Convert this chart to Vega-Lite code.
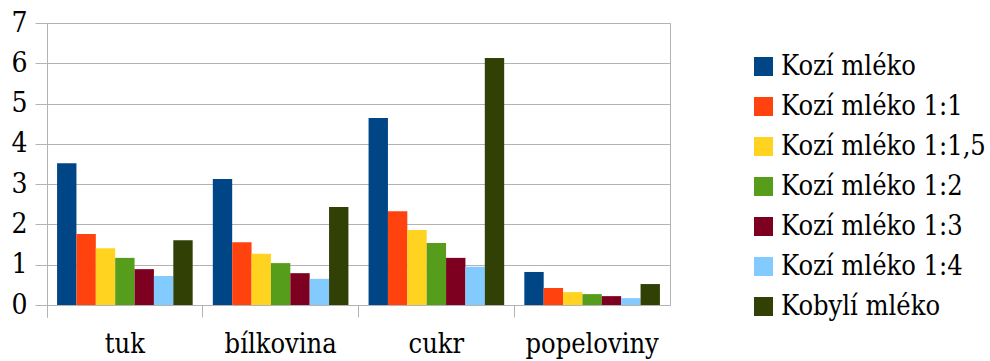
{
  "$schema": "https://vega.github.io/schema/vega-lite/v6.json",
  "width": 623,
  "height": 282,
  "autosize": {"type": "none"},
  "padding": {"left": 47, "top": 23, "right": 320, "bottom": 56},
  "background": "white",
  "config": {
    "font": "DejaVu Serif Condensed, DejaVu Serif",
    "axis": {"labelFont": "DejaVu Serif Condensed, DejaVu Serif"},
    "legend": {"labelFont": "DejaVu Serif Condensed, DejaVu Serif"},
    "view": {"stroke": "#b3b3b3", "strokeWidth": 1}
  },
  "data": {
    "values": [
      {"slozka": "tuk", "mleko": "Kozí mléko", "hodnota": 3.52},
      {"slozka": "tuk", "mleko": "Kozí mléko 1:1", "hodnota": 1.76},
      {"slozka": "tuk", "mleko": "Kozí mléko 1:1,5", "hodnota": 1.41},
      {"slozka": "tuk", "mleko": "Kozí mléko 1:2", "hodnota": 1.17},
      {"slozka": "tuk", "mleko": "Kozí mléko 1:3", "hodnota": 0.89},
      {"slozka": "tuk", "mleko": "Kozí mléko 1:4", "hodnota": 0.72},
      {"slozka": "tuk", "mleko": "Kobylí mléko", "hodnota": 1.61},
      {"slozka": "bílkovina", "mleko": "Kozí mléko", "hodnota": 3.13},
      {"slozka": "bílkovina", "mleko": "Kozí mléko 1:1", "hodnota": 1.56},
      {"slozka": "bílkovina", "mleko": "Kozí mléko 1:1,5", "hodnota": 1.27},
      {"slozka": "bílkovina", "mleko": "Kozí mléko 1:2", "hodnota": 1.04},
      {"slozka": "bílkovina", "mleko": "Kozí mléko 1:3", "hodnota": 0.79},
      {"slozka": "bílkovina", "mleko": "Kozí mléko 1:4", "hodnota": 0.65},
      {"slozka": "bílkovina", "mleko": "Kobylí mléko", "hodnota": 2.43},
      {"slozka": "cukr", "mleko": "Kozí mléko", "hodnota": 4.64},
      {"slozka": "cukr", "mleko": "Kozí mléko 1:1", "hodnota": 2.33},
      {"slozka": "cukr", "mleko": "Kozí mléko 1:1,5", "hodnota": 1.86},
      {"slozka": "cukr", "mleko": "Kozí mléko 1:2", "hodnota": 1.54},
      {"slozka": "cukr", "mleko": "Kozí mléko 1:3", "hodnota": 1.17},
      {"slozka": "cukr", "mleko": "Kozí mléko 1:4", "hodnota": 0.95},
      {"slozka": "cukr", "mleko": "Kobylí mléko", "hodnota": 6.13},
      {"slozka": "popeloviny", "mleko": "Kozí mléko", "hodnota": 0.82},
      {"slozka": "popeloviny", "mleko": "Kozí mléko 1:1", "hodnota": 0.42},
      {"slozka": "popeloviny", "mleko": "Kozí mléko 1:1,5", "hodnota": 0.32},
      {"slozka": "popeloviny", "mleko": "Kozí mléko 1:2", "hodnota": 0.27},
      {"slozka": "popeloviny", "mleko": "Kozí mléko 1:3", "hodnota": 0.22},
      {"slozka": "popeloviny", "mleko": "Kozí mléko 1:4", "hodnota": 0.17},
      {"slozka": "popeloviny", "mleko": "Kobylí mléko", "hodnota": 0.52}
    ]
  },
  "mark": {"type": "bar", "strokeWidth": 0},
  "encoding": {
    "x": {
      "field": "slozka",
      "type": "nominal",
      "sort": ["tuk", "bílkovina", "cukr", "popeloviny"],
      "scale": {"paddingInner": 0, "paddingOuter": 0},
      "axis": {
        "title": null,
        "labelAngle": 0,
        "labelFontSize": 27,
        "labelColor": "black",
        "labelPadding": 14,
        "labelBaseline": "top",
        "bandPosition": 0,
        "tickExtra": true,
        "tickSize": 12,
        "tickColor": "#b3b3b3",
        "domainColor": "#b3b3b3",
        "grid": false
      }
    },
    "xOffset": {
      "field": "mleko",
      "type": "nominal",
      "sort": ["Kozí mléko", "Kozí mléko 1:1", "Kozí mléko 1:1,5", "Kozí mléko 1:2", "Kozí mléko 1:3", "Kozí mléko 1:4", "Kobylí mléko"],
      "scale": {"paddingInner": 0, "paddingOuter": 0.52}
    },
    "y": {
      "field": "hodnota",
      "type": "quantitative",
      "scale": {"domain": [0, 7], "nice": false},
      "axis": {
        "title": null,
        "values": [0, 1, 2, 3, 4, 5, 6, 7],
        "labelFontSize": 28,
        "labelColor": "black",
        "labelPadding": 8,
        "tickSize": 12,
        "tickColor": "#b3b3b3",
        "domainColor": "#b3b3b3",
        "gridColor": "#b3b3b3",
        "gridOpacity": 1
      }
    },
    "color": {
      "field": "mleko",
      "type": "nominal",
      "sort": ["Kozí mléko", "Kozí mléko 1:1", "Kozí mléko 1:1,5", "Kozí mléko 1:2", "Kozí mléko 1:3", "Kozí mléko 1:4", "Kobylí mléko"],
      "scale": {
        "domain": ["Kozí mléko", "Kozí mléko 1:1", "Kozí mléko 1:1,5", "Kozí mléko 1:2", "Kozí mléko 1:3", "Kozí mléko 1:4", "Kobylí mléko"],
        "range": ["#004586", "#ff420e", "#ffd320", "#579d1c", "#7e0021", "#83caff", "#314004"]
      },
      "legend": {
        "title": null,
        "orient": "none",
        "legendX": 703,
        "legendY": 30,
        "padding": 0,
        "symbolType": "square",
        "symbolSize": 361,
        "symbolStrokeWidth": 0,
        "symbolOpacity": 1,
        "labelFontSize": 27,
        "labelColor": "black",
        "labelOffset": 4,
        "labelLimit": 400,
        "rowPadding": 12
      }
    }
  }
}
